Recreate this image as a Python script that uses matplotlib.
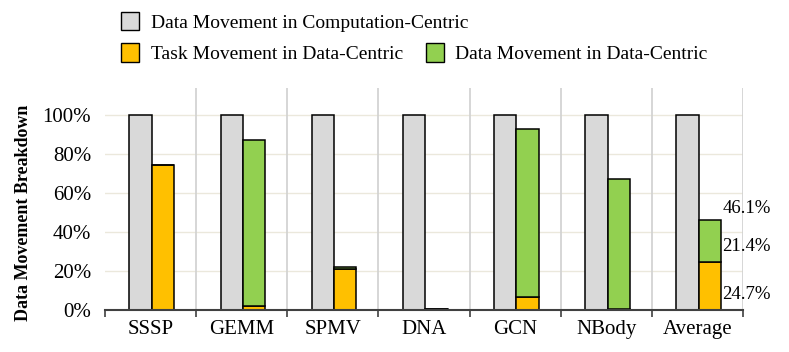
import numpy as np
import matplotlib
matplotlib.use('Agg')
from matplotlib import pyplot as plt
from matplotlib.patches import Patch

plt.rcParams['font.family'] = ['Liberation Serif', 'DejaVu Serif']

categories = ['SSSP', 'GEMM', 'SPMV', 'DNA', 'GCN', 'NBody', 'Average']
comp_centric = [100, 100, 100, 100, 100, 100, 100]
task_move = [74.7, 2.0, 21.0, 0.5, 6.5, 0.5, 24.7]
data_move = [0.0, 85.5, 1.0, 0.3, 86.3, 67.0, 21.4]
avg_labels = ['24.7%', '21.4%', '46.1%']

c_gray = '#d9d9d9'
c_orange = '#ffc000'
c_green = '#92d050'

fig = plt.figure(figsize=(7.89, 3.52), dpi=100)
ax = fig.add_axes([0.133, 0.119, 0.809, 0.631])

x = np.arange(len(categories))
w = 0.245
ax.bar(x + 0.39, comp_centric, w, color=c_gray, edgecolor='black', linewidth=1.1, zorder=3)
ax.bar(x + 0.635, task_move, w, color=c_orange, edgecolor='black', linewidth=1.1, zorder=3)
ax.bar(x + 0.635, data_move, w, bottom=task_move, color=c_green, edgecolor='black',
       linewidth=1.1, zorder=3)

# labels on the average bar
i = len(categories) - 1
tot = task_move[i] + data_move[i]
ax.text(i + 0.77, 8, avg_labels[0], fontsize=13.5, va='center', ha='left')
ax.text(i + 0.77, task_move[i] + 8, avg_labels[1], fontsize=13.5, va='center', ha='left')
ax.text(i + 0.77, tot + 6, avg_labels[2], fontsize=13.5, va='center', ha='left')

ax.set_xlim(0, len(categories))
ax.set_ylim(0, 114)
ax.set_yticks([0, 20, 40, 60, 80, 100])
ax.set_yticklabels(['0%', '20%', '40%', '60%', '80%', '100%'], fontsize=15)
ax.tick_params(axis='y', length=0, pad=10)

ax.set_xticks(np.arange(len(categories) + 1))
ax.set_xticklabels([])
ax.set_xticks(x + 0.5, minor=True)
ax.set_xticklabels(categories, minor=True, fontsize=15)
ax.tick_params(axis='x', which='major', length=5, width=1.2, color='#404040', direction='out')
ax.tick_params(axis='x', which='minor', length=0, pad=7)

for yv in [20, 40, 60, 80, 100]:
    ax.axhline(yv, color='#ebe8dc', linewidth=1.0, zorder=1)
for xv in range(1, len(categories) + 1):
    ax.axvline(xv, color='#d0d0d0', linewidth=1.2, zorder=1)

for s in ['top', 'right', 'left']:
    ax.spines[s].set_visible(False)
ax.spines['bottom'].set_color('#404040')
ax.spines['bottom'].set_linewidth(1.5)
ax.spines['bottom'].set_zorder(4)

ax.set_ylabel('Data Movement Breakdown', fontsize=13, fontweight='bold')
ax.yaxis.set_label_coords(-0.115, 0.44)

h1 = [Patch(facecolor=c_gray, edgecolor='black', label='Data Movement in Computation-Centric')]
h2 = [Patch(facecolor=c_orange, edgecolor='black', label='Task Movement in Data-Centric'),
      Patch(facecolor=c_green, edgecolor='black', label='Data Movement in Data-Centric')]
fig.legend(handles=h1, loc='upper left', bbox_to_anchor=(0.139, 1.0), frameon=False,
           fontsize=14, handlelength=0.9, handleheight=1.1, handletextpad=0.6,
           borderaxespad=0.2)
fig.legend(handles=h2, loc='upper left', bbox_to_anchor=(0.139, 0.91), frameon=False,
           fontsize=14, ncol=2, handlelength=0.9, handleheight=1.1, handletextpad=0.6,
           columnspacing=1.2, borderaxespad=0.2)

fig.savefig('out.png', dpi=100)
